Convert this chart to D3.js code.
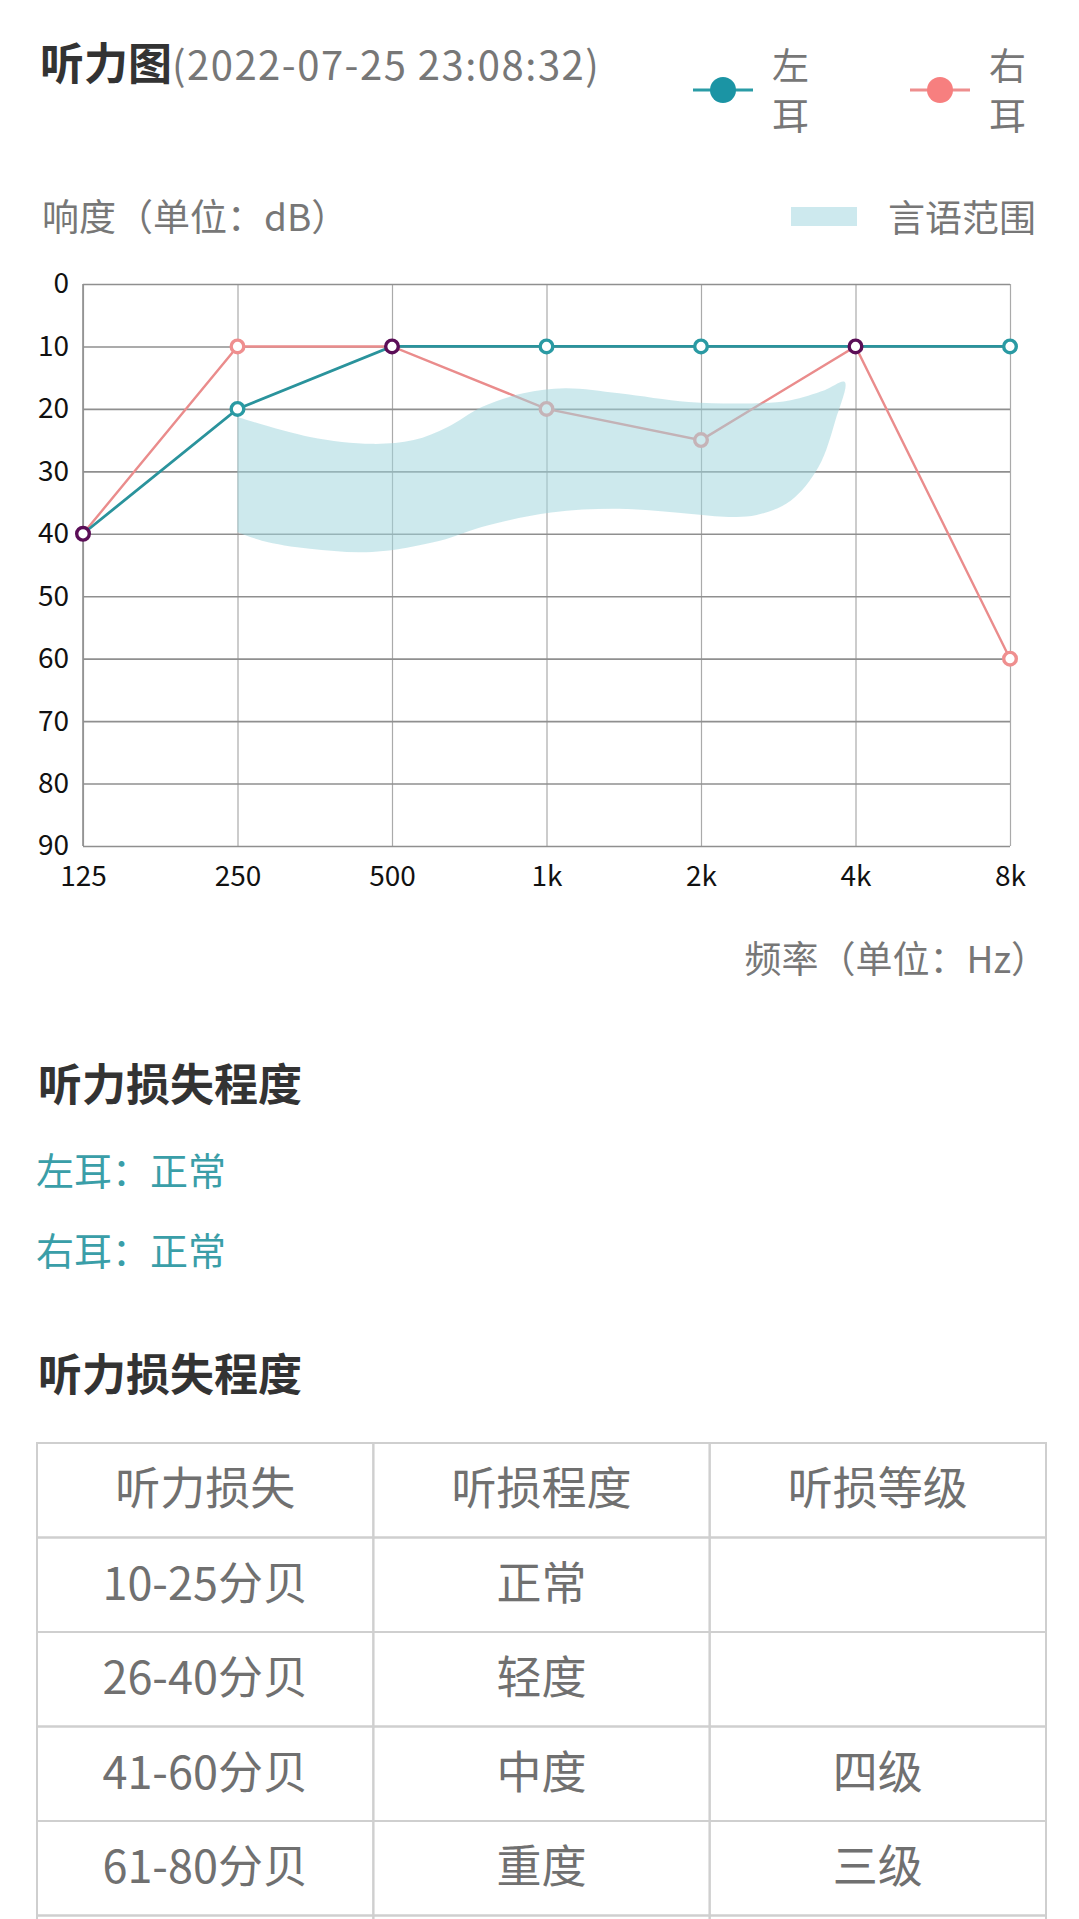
<!DOCTYPE html>
<html>
<head>
<meta charset="utf-8">
<script src="https://cdn.jsdelivr.net/npm/d3@7.9.0/dist/d3.min.js"></script>
<style>
  html, body { margin: 0; padding: 0; background: #fff; overflow: hidden; }
  svg { display: block; font-family: "Noto Sans CJK SC", "Noto Sans", sans-serif; }
</style>
</head>
<body>
<div id="chart"></div>
<script>
// test values (dB HL) per frequency
const freqs = [125, 250, 500, 1000, 2000, 4000, 8000];
const freqLabels = ['125', '250', '500', '1k', '2k', '4k', '8k'];
const leftEar = [40, 20, 10, 10, 10, 10, 10];
const rightEar = [40, 10, 10, 20, 25, 10, 60];
const dbTicks = [0, 10, 20, 30, 40, 50, 60, 70, 80, 90];

// speech banana outline: [Hz, dB]
const speechOutline = [
  [250, 21.3], [346, 24.5], [457, 25.6], [551, 25], [642, 22.9], [748, 19.7],
  [901, 17.5], [1087, 16.7], [1385, 17.5], [1893, 18.9], [2567, 19.1],
  [2990, 18.6], [3482, 17], [3811, 15.7], [3656, 21.8], [3388, 29.3],
  [2990, 34.7], [2567, 37], [2266, 37.3], [1893, 36.8], [1385, 36],
  [1021, 36.6], [748, 38.9], [620, 41.1], [457, 42.9], [346, 42.4],
  [279, 41.1], [250, 39.7]
];

const title = '听力图';
const recordTime = '(2022-07-25 23:08:32)';
const resultLeft = '左耳：正常';
const resultRight = '右耳：正常';
const tableHeader = ['听力损失', '听损程度', '听损等级'];
const tableRows = [
  ['10-25分贝', '正常', ''],
  ['26-40分贝', '轻度', ''],
  ['41-60分贝', '中度', '四级'],
  ['61-80分贝', '重度', '三级'],
  ['', '', '']   // next row, only its top edge is on screen
];

const width = 1079;
const height = 1919;
const teal = '#2a939c';
const pink = '#ea8c8c';
const both = '#5b0e57';
const gray = '#777';

const svg = d3.select('#chart').append('svg')
    .attr('width', width)
    .attr('height', height)
    .attr('viewBox', `0 0 ${width} ${height}`);

// header
const head = svg.append('text').attr('x', 40).attr('y', 80);
head.append('tspan').text(title)
    .attr('font-size', 44).attr('font-weight', 700).attr('fill', '#333');
head.append('tspan').text(recordTime)
    .attr('font-size', 40).attr('letter-spacing', 1.5).attr('fill', gray);

// ear legend
const earLegend = [
  { x: 693, color: '#2a9ca6', dot: '#1b94a4', label: ['左', '耳'] },
  { x: 910, color: '#ee8e8e', dot: '#f77f7f', label: ['右', '耳'] },
];
earLegend.forEach((d) => {
  const g = svg.append('g');
  g.append('line').attr('x1', d.x).attr('x2', d.x + 60).attr('y1', 90).attr('y2', 90)
      .attr('stroke', d.color).attr('stroke-width', 3);
  g.append('circle').attr('cx', d.x + 30).attr('cy', 90).attr('r', 13).attr('fill', d.dot);
  d.label.forEach((t, i) => {
    g.append('text').attr('x', d.x + 79).attr('y', 80 + i * 50)
        .attr('font-size', 37).attr('fill', gray).text(t);
  });
});

svg.append('text').attr('x', 42).attr('y', 231)
    .attr('font-size', 37).attr('fill', gray).text('响度（单位：dB）');
svg.append('rect').attr('x', 791).attr('y', 207).attr('width', 66).attr('height', 19)
    .attr('fill', '#cde9ee');
svg.append('text').attr('x', 888).attr('y', 232)
    .attr('font-size', 37).attr('fill', gray).text('言语范围');

// plot
const plot = { left: 83, right: 1010, top: 284, bottom: 846 };

const xScale = d3.scaleLog().base(2)
    .domain([125, 8000])
    .range([plot.left, plot.right]);
const yScale = d3.scaleLinear()
    .domain([0, 90])
    .range([plot.top, plot.bottom]);

const xAxis = svg.append('g')
    .attr('transform', `translate(0, ${plot.bottom})`)
    .call(d3.axisBottom(xScale)
        .tickValues(freqs)
        .tickFormat((d, i) => freqLabels[i])
        .tickSize(-(plot.bottom - plot.top)));
xAxis.select('.domain').remove();
xAxis.selectAll('line').attr('stroke', '#aaa').attr('stroke-width', 1.2);
xAxis.selectAll('text')
    .attr('y', 40).attr('dy', null)
    .attr('font-size', 28).attr('fill', '#111')
    .attr('font-family', '"Noto Sans CJK SC", sans-serif');

const yAxis = svg.append('g')
    .attr('transform', `translate(${plot.left}, 0)`)
    .call(d3.axisLeft(yScale)
        .tickValues(dbTicks)
        .tickSize(-(plot.right - plot.left))
        .tickPadding(14));
yAxis.select('.domain').remove();
yAxis.selectAll('line').attr('stroke', '#8f8f8f').attr('stroke-width', 1.6);
yAxis.selectAll('text')
    .attr('font-size', 28).attr('fill', '#111')
    .attr('font-family', '"Noto Sans CJK SC", sans-serif');

// left axis edge
svg.append('line').attr('x1', plot.left).attr('x2', plot.left)
    .attr('y1', plot.top).attr('y2', plot.bottom)
    .attr('stroke', '#8f8f8f').attr('stroke-width', 1.6);

const line = d3.line()
    .x((d) => xScale(d[0]))
    .y((d) => yScale(d[1]));

const series = [
  { values: rightEar, color: pink, width: 2.4 },
  { values: leftEar, color: teal, width: 2.8 },
];
series.forEach((s) => {
  svg.append('path')
      .datum(freqs.map((f, i) => [f, s.values[i]]))
      .attr('fill', 'none')
      .attr('stroke', s.color)
      .attr('stroke-width', s.width)
      .attr('d', line);
});

// markers: purple where both ears agree
const markers = [];
freqs.forEach((f, i) => {
  if (leftEar[i] === rightEar[i]) {
    markers.push({ f, db: leftEar[i], color: both });
  } else {
    markers.push({ f, db: rightEar[i], color: '#ef8f8f' });
    markers.push({ f, db: leftEar[i], color: '#2a9aa3' });
  }
});
svg.append('g').selectAll('circle')
    .data(markers)
    .join('circle')
    .attr('cx', (d) => xScale(d.f))
    .attr('cy', (d) => yScale(d.db))
    .attr('r', 6.3)
    .attr('fill', '#fff')
    .attr('stroke', (d) => d.color)
    .attr('stroke-width', 3.4);

// speech banana drawn on top, translucent
const bananaLine = d3.line()
    .x((d) => xScale(d[0]))
    .y((d) => yScale(d[1]))
    .curve(d3.curveCatmullRom.alpha(0.5));
svg.append('path')
    .attr('d', bananaLine(speechOutline) + 'Z')
    .attr('fill', '#9fd4dd')
    .attr('fill-opacity', 0.52);

svg.append('text').attr('x', 1048).attr('y', 973)
    .attr('text-anchor', 'end')
    .attr('font-size', 37).attr('fill', gray).text('频率（单位：Hz）');

// hearing loss result
svg.append('text').attr('x', 38).attr('y', 1101)
    .attr('font-size', 44).attr('font-weight', 700).attr('fill', '#333').text('听力损失程度');
svg.append('text').attr('x', 36).attr('y', 1185)
    .attr('font-size', 38).attr('fill', '#3a9ea8').text(resultLeft);
svg.append('text').attr('x', 36).attr('y', 1265)
    .attr('font-size', 38).attr('fill', '#3a9ea8').text(resultRight);
svg.append('text').attr('x', 38).attr('y', 1391)
    .attr('font-size', 44).attr('font-weight', 700).attr('fill', '#333').text('听力损失程度');

// table
const table = { left: 37, right: 1046, top: 1443, rowH: 94.5 };
const colX = d3.scaleBand()
    .domain(d3.range(3))
    .range([table.left, table.right]);
const allRows = [tableHeader, ...tableRows];
const tg = svg.append('g');
allRows.forEach((row, r) => {
  const y0 = table.top + r * table.rowH;
  row.forEach((cell, c) => {
    tg.append('rect')
        .attr('x', colX(c)).attr('y', y0)
        .attr('width', colX.bandwidth()).attr('height', table.rowH)
        .attr('fill', 'none').attr('stroke', '#cfcfcf').attr('stroke-width', 2);
    if (cell) {
      tg.append('text')
          .attr('x', colX(c) + colX.bandwidth() / 2)
          .attr('y', y0 + table.rowH / 2 + 15)
          .attr('text-anchor', 'middle')
          .attr('font-size', 45).attr('fill', '#707070')
          .text(cell);
    }
  });
});
</script>
</body>
</html>
